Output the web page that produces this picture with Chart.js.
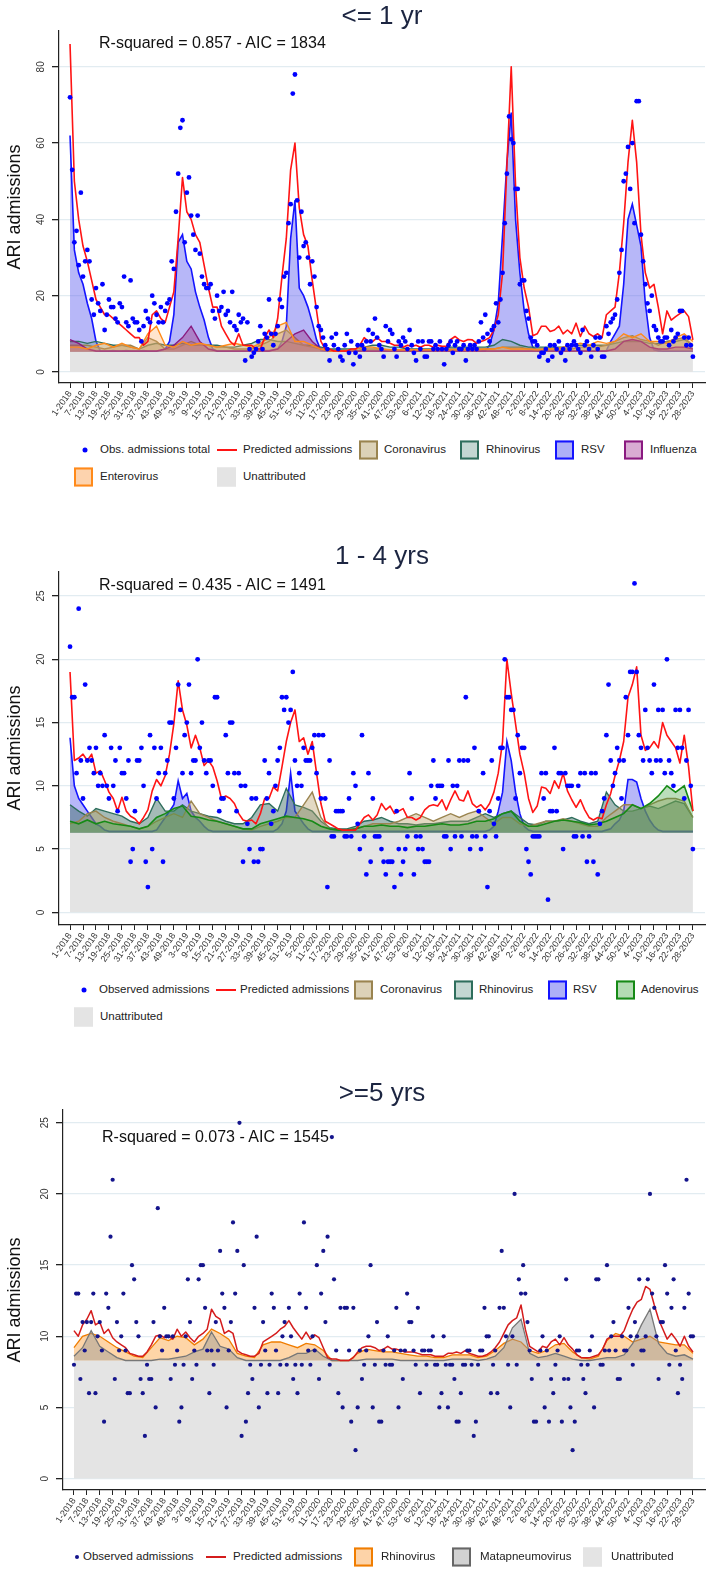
<!DOCTYPE html>
<html>
<head>
<meta charset="utf-8">
<script src="https://cdn.jsdelivr.net/npm/chart.js@4.4.0/dist/chart.umd.min.js"></script>
<style>
body { margin: 0; background: #fff; font-family: "Liberation Sans", Arial, sans-serif; }
#pagina { position: relative; width: 709px; height: 1571px; overflow: hidden; background: #fff; }
canvas { position: absolute; left: 0; }
.titulo { position: absolute; left: 59px; width: 646px; text-align: center; font-size: 26px; color: #1c2541; line-height: 1; transform: translateY(-50%); z-index: 2; }
.r2 { position: absolute; font-size: 16px; color: #111; line-height: 1; white-space: nowrap; transform: translateY(-50%); z-index: 2; }
.ytit { position: absolute; left: 14px; font-size: 18px; color: #111; line-height: 1; white-space: nowrap; transform: translate(-50%, -50%) rotate(-90deg); z-index: 2; }
.ley { position: absolute; font-size: 11.5px; color: #222; line-height: 1; white-space: nowrap; transform: translateY(-50%); }
.caja { position: absolute; width: 15px; height: 15px; border: 2px solid; transform: translateY(-50%); }
.punto { position: absolute; width: 5px; height: 5px; border-radius: 50%; transform: translate(-50%, -50%); }
.raya { position: absolute; width: 20px; height: 2px; transform: translateY(-50%); }
</style>
</head>
<body>
<div id="pagina">
  <div class="titulo" style="top:15px">&lt;= 1 yr</div>
  <div class="r2" style="left:99px; top:43px">R-squared = 0.857 - AIC = 1834</div>
  <div class="ytit" style="top:207px">ARI admissions</div>
  <canvas id="g1" width="709" height="440" style="top:0px"></canvas>

  <div class="titulo" style="top:555px">1 - 4 yrs</div>
  <div class="r2" style="left:99px; top:585px">R-squared = 0.435 - AIC = 1491</div>
  <div class="ytit" style="top:748px">ARI admissions</div>
  <canvas id="g2" width="709" height="440" style="top:540px"></canvas>

  <div class="titulo" style="top:1092px">&gt;=5 yrs</div>
  <div class="r2" style="left:102px; top:1137px">R-squared = 0.073 - AIC = 1545</div>
  <div class="ytit" style="top:1300px">ARI admissions</div>
  <canvas id="g3" width="709" height="470" style="top:1080px"></canvas>
</div>

<script>
// Etiquetas del eje X (una cada 6 semanas, de la semana 1-2018 a la 28-2023)
const semanas = ['1-2018','7-2018','13-2018','19-2018','25-2018','31-2018','37-2018','43-2018','49-2018',
  '3-2019','9-2019','15-2019','21-2019','27-2019','33-2019','39-2019','45-2019','51-2019',
  '5-2020','11-2020','17-2020','23-2020','29-2020','35-2020','41-2020','47-2020','53-2020',
  '6-2021','12-2021','18-2021','24-2021','30-2021','36-2021','42-2021','48-2021',
  '2-2022','8-2022','14-2022','20-2022','26-2022','32-2022','38-2022','44-2022','50-2022',
  '4-2023','10-2023','16-2023','22-2023','28-2023'];

const ticksY1 = [0, 20, 40, 60, 80];
const ticksY2 = [0, 5, 10, 15, 20, 25];
const ticksY3 = [0, 5, 10, 15, 20, 25];

// ---------- <= 1 año ----------
// ingresos observados, una por semana (289 semanas)
const obs1 = [72, 53, 34, 37, 28, 47, 25, 29, 32, 29,
  19, 15, 22, 18, 16, 23, 11, 15, 19, 17,
  17, 14, 13, 18, 17, 25, 13, 12, 24, 14,
  13, 13, 11, 8, 12, 16, 14, 13, 20, 18,
  15, 13, 17, 13, 16, 18, 19, 29, 27, 42,
  52, 64, 66, 34, 47, 51, 41, 36, 32, 41,
  31, 25, 23, 22, 22, 23, 16, 14, 20, 16,
  17, 21, 15, 16, 13, 21, 12, 11, 15, 13,
  14, 3, 13, 6, 4, 5, 6, 8, 12, 6,
  10, 9, 19, 10, 7, 10, 12, 19, 17, 25,
  26, 39, 44, 73, 78, 45, 30, 42, 33, 34,
  30, 23, 29, 25, 17, 12, 11, 9, 7, 6,
  3, 9, 7, 10, 6, 4, 3, 7, 10, 5,
  8, 2, 5, 7, 4, 7, 6, 8, 11, 8,
  10, 14, 9, 7, 6, 4, 12, 8, 11, 10,
  6, 4, 8, 7, 9, 8, 6, 11, 7, 5,
  3, 8, 6, 8, 4, 4, 8, 8, 6, 7,
  6, 8, 6, 2, 6, 7, 8, 5, 7, 8,
  6, 6, 7, 3, 6, 7, 6, 7, 6, 8,
  13, 9, 15, 10, 8, 11, 12, 18, 13, 19,
  26, 39, 52, 67, 61, 60, 48, 48, 23, 24,
  24, 16, 14, 9, 8, 8, 7, 4, 5, 5,
  6, 3, 7, 4, 7, 6, 8, 5, 6, 3,
  7, 6, 7, 8, 7, 6, 5, 11, 7, 8,
  6, 4, 7, 9, 6, 9, 4, 4, 12, 10,
  13, 14, 15, 19, 26, 32, 50, 52, 59, 48,
  60, 39, 71, 71, 36, 29, 23, 18, 16, 20,
  12, 11, 9, 8, 8, 9, 9, 7, 11, 8,
  9, 10, 16, 16, 9, 7, 9, 7, 4];
// predichos, cada 2 semanas
const pred1 = [86, 50, 40, 33, 29, 24, 19, 17, 15, 15,
  14, 13, 12, 11, 10, 9, 9, 7, 8, 15,
  16, 14, 13, 17, 21, 35, 51, 42, 40, 36,
  34, 28, 22, 17, 17, 12, 10, 8, 7, 10,
  7, 7, 7, 6, 6, 9, 11, 9, 14, 25,
  35, 53, 60, 43, 36, 33, 24, 16, 8, 6,
  6, 5.5, 5.5, 5.5, 5.5, 6, 6, 7, 9, 8,
  8, 9, 8, 8, 7.5, 7, 7, 6.5, 7, 6.7,
  7, 6.5, 7, 7, 6.5, 7, 6.7, 6.7, 8.5, 9.3,
  8.4, 8, 8.5, 8.4, 7.5, 8, 8.4, 9, 11, 15,
  26, 54, 80, 49, 30, 22, 17, 9.5, 10, 12,
  12, 10.6, 11, 12, 10, 11, 10, 12.8, 9.3, 12,
  10, 9.3, 10, 9, 15, 16, 17, 26, 39, 55,
  66, 55, 36, 26, 22, 23, 17, 10, 16, 13.6,
  14.5, 15.3, 16, 14.5, 8.4];
// RSV cada 2 semanas
const rsv1 = [62, 32, 26, 23, 18, 14, 8, 5.5, 5.5, 5.5,
  5.6, 5.5, 5.5, 5.6, 5.5, 5.5, 5.5, 5.6, 5.5, 5.5,
  5.5, 5.6, 6, 8, 15, 34, 36, 29, 27, 21,
  17, 13.6, 9, 6, 5.5, 5.5, 5.5, 5.5, 5.5, 5.5,
  5.5, 5.5, 5.5, 5.5, 5.6, 5.6, 5.6, 5.8, 6, 8,
  12, 35, 45, 22, 20, 17, 13, 8.4, 5.6, 5.5,
  5.5, 5.5, 5.5, 5.5, 5.5, 5.5, 5.5, 5.5, 5.5, 5.5,
  5.5, 5.5, 5.5, 5.5, 5.5, 5.5, 5.5, 5.5, 5.5, 5.5,
  5.5, 5.5, 5.5, 5.5, 5.5, 5.5, 5.5, 5.5, 5.5, 5.5,
  5.5, 5.5, 5.5, 5.5, 5.5, 5.6, 5.6, 7, 11, 18,
  36, 55, 68, 40, 26, 16, 10, 6.5, 5.6, 5.5,
  5.5, 5.5, 5.5, 5.5, 5.5, 5.5, 5.5, 5.5, 5.5, 5.5,
  5.5, 5.5, 5.5, 5.5, 5.6, 8, 10, 12, 23, 40,
  44, 38.5, 33, 18, 9, 5.8, 5.6, 5.5, 5.5, 5.5,
  5.5, 5.5, 5.5, 5.5, 5.5];
// resto de virus cada 4 semanas
const corona1 = [7, 7, 7, 6.5, 6, 6.5, 7, 7, 6, 9,
  8, 6, 6, 7, 8, 7, 7, 6.5, 6.5, 6,
  6, 6, 7, 8, 10, 11, 9, 7, 6.5, 6,
  5.5, 5.5, 5.5, 5.5, 6, 6, 6, 5.7, 5.6, 5.6,
  5.6, 5.6, 5.7, 5.8, 6, 6, 6, 6, 6, 6,
  6.5, 6.5, 6.5, 6, 6, 6, 6, 6, 6, 6.5,
  6.5, 6.5, 7, 8, 9, 9.5, 8.5, 8, 7, 8,
  8.5, 9, 7];
const rhino1 = [8, 8, 7.5, 8, 7.5, 7, 7, 6.5, 6, 7,
  7.5, 7, 7, 7.5, 7, 7, 7, 7, 6.5, 6.5,
  7, 7.5, 8.5, 8.5, 8, 8, 7.5, 7, 7, 6.5,
  6, 6, 6, 6, 6.5, 7, 7, 6.5, 6.5, 6,
  6, 6, 6, 6, 6.5, 6.5, 6.5, 6.5, 6.5, 7,
  8.5, 8, 7, 6.5, 6.5, 6.5, 6.5, 6.5, 7, 7,
  7, 7, 7, 7.5, 8, 8, 8, 7.5, 7.5, 8,
  8, 8.5, 7];
const flu1 = [8.5, 7.5, 6, 5.5, 5.5, 5.5, 5.5, 5.5, 5.5, 5.5,
  5.5, 6, 7, 9, 12, 8, 6, 5.5, 5.5, 5.5,
  5.5, 5.5, 5.5, 5.5, 6, 8, 10, 11, 8, 6,
  5.5, 5.5, 5.5, 5.5, 5.5, 5.5, 5.5, 5.5, 5.5, 5.5,
  5.5, 5.5, 5.5, 5.5, 5.5, 5.5, 5.5, 5.5, 5.5, 5.5,
  5.5, 5.5, 5.5, 5.5, 5.5, 5.5, 5.5, 5.5, 5.5, 5.5,
  5.5, 5.5, 5.5, 6, 8, 8.5, 8, 6.5, 6, 6,
  6.5, 6.5, 6];
const entero1 = [6.5, 6.5, 6, 7, 7.5, 6.5, 7.5, 6.5, 6, 10,
  12, 7, 6.5, 8, 7, 7.5, 7, 6.5, 7, 7.5,
  7, 6.5, 7.5, 9, 12, 13, 8, 8, 7, 6,
  5.5, 5.5, 5.7, 6, 6.5, 6.5, 6, 5.8, 5.8, 5.8,
  5.8, 5.8, 5.8, 5.8, 5.8, 5.8, 5.8, 5.8, 6, 6,
  6.5, 6, 6, 6, 5.8, 6, 6, 6.5, 7, 7.5,
  7, 8, 7.5, 8, 10, 9, 10, 8, 8, 7.5,
  9, 10, 8];
const sinAtribuir1 = [5.3, 5.3];

// ---------- 1 - 4 años ----------
const obs2 = [21, 17, 17, 11, 24, 12, 9, 18, 12, 13,
  12, 11, 13, 10, 11, 10, 14, 10, 9, 13,
  10, 12, 8, 13, 11, 11, 9, 12, 4, 5,
  8, 12, 12, 13, 10, 4, 2, 14, 5, 13,
  9, 11, 13, 4, 11, 12, 15, 15, 9, 13,
  18, 16, 11, 14, 15, 18, 11, 12, 12, 20,
  13, 15, 12, 11, 12, 12, 10, 17, 17, 8,
  9, 9, 14, 11, 15, 15, 11, 8, 11, 10,
  4, 10, 7, 5, 9, 4, 9, 4, 5, 5,
  12, 9, 11, 7, 8, 10, 12, 13, 17, 16,
  17, 15, 16, 19, 12, 10, 11, 10, 13, 12,
  12, 12, 13, 14, 11, 14, 9, 14, 9, 2,
  12, 6, 6, 8, 8, 8, 8, 6, 6, 9,
  6, 11, 10, 7, 5, 14, 6, 3, 11, 4,
  9, 6, 6, 6, 5, 4, 3, 4, 4, 4,
  2, 8, 5, 3, 4, 5, 6, 11, 9, 3,
  6, 5, 6, 5, 4, 4, 4, 10, 12, 9,
  10, 10, 10, 6, 6, 12, 5, 10, 6, 10,
  12, 6, 12, 17, 12, 5, 6, 13, 6, 8,
  5, 11, 6, 2, 8, 12, 7, 6, 9, 13,
  13, 20, 17, 17, 16, 16, 9, 14, 11, 13,
  13, 5, 4, 3, 6, 6, 6, 6, 11, 9,
  11, 1, 8, 8, 13, 8, 11, 11, 5, 11,
  10, 10, 10, 6, 6, 10, 11, 6, 11, 4,
  6, 11, 4, 11, 3, 7, 8, 9, 14, 18,
  12, 10, 11, 13, 12, 9, 12, 17, 14, 19,
  19, 26, 19, 14, 13, 12, 16, 13, 12, 11,
  18, 12, 16, 12, 16, 11, 20, 12, 11, 10,
  16, 13, 16, 13, 9, 12, 16, 10, 5];
const pred2 = [19, 12, 12.2, 12.5, 12, 12.5, 11, 11.2, 10.4, 9.5,
  9, 8, 9.1, 8, 7.6, 7.4, 7, 7.5, 8.1, 9.6,
  10.5, 10, 10.8, 12.5, 14.9, 18.3, 16, 14.8, 13, 14,
  13, 11.6, 12, 11.5, 10.4, 9, 9.2, 9, 8.6, 7.8,
  7.3, 7.2, 7.3, 7, 7.8, 9, 9, 9.9, 9.6, 11.5,
  13.5, 15, 16, 13.5, 13.8, 12.5, 13.5, 11, 8.6, 7.2,
  7, 6.8, 6.6, 6.5, 6.5, 6.5, 6.5, 7, 7.5, 7.7,
  7.3, 7.7, 8.6, 8.1, 8.4, 7.8, 8, 8.2, 7.5, 7.5,
  7.3, 7.5, 8.1, 8.4, 8.5, 8.4, 8.9, 8.1, 8.9, 9.6,
  8.9, 8.8, 9.6, 8.6, 8.3, 8.5, 8.1, 8.6, 9.5, 11,
  13.5, 20, 17.3, 14.9, 12.5, 11, 9, 7.9, 8.4, 9.9,
  9.8, 9.4, 10.4, 9.8, 11, 9.6, 8.9, 8.3, 8.9, 8.1,
  7.5, 7.3, 7.5, 7.4, 8.5, 9.4, 10.8, 12, 13.5, 17,
  18, 19.4, 14, 12.8, 13, 13.5, 13, 15, 14, 13.5,
  13, 11.8, 14, 11.5, 8];
const rsv2 = [13.8, 10, 9, 8.5, 8, 7.5, 7, 6.8, 6.5, 6.4,
  6.4, 6.4, 6.4, 6.4, 6.4, 6.4, 6.4, 6.4, 6.4, 6.4,
  6.5, 7, 7.5, 8, 8.5, 10.4, 9, 9.4, 8, 7.5,
  7.2, 6.8, 6.5, 6.4, 6.4, 6.4, 6.4, 6.4, 6.4, 6.4,
  6.4, 6.4, 6.4, 6.4, 6.4, 6.4, 6.4, 6.4, 6.6, 7,
  8, 11, 8, 7.5, 7, 6.6, 6.4, 6.4, 6.4, 6.4,
  6.4, 6.4, 6.4, 6.4, 6.4, 6.4, 6.4, 6.4, 6.4, 6.4,
  6.4, 6.4, 6.4, 6.4, 6.4, 6.4, 6.4, 6.4, 6.4, 6.4,
  6.4, 6.4, 6.4, 6.4, 6.4, 6.4, 6.4, 6.4, 6.4, 6.4,
  6.4, 6.4, 6.4, 6.4, 6.4, 6.4, 6.4, 6.5, 6.8, 8,
  9.5, 13.5, 12, 9.5, 7.8, 6.8, 6.5, 6.4, 6.4, 6.4,
  6.4, 6.4, 6.4, 6.4, 6.4, 6.4, 6.4, 6.4, 6.4, 6.4,
  6.4, 6.4, 6.4, 6.4, 6.5, 6.6, 7, 7.3, 8, 10.5,
  10.5, 10.3, 9, 8, 7.3, 6.8, 6.5, 6.4, 6.4, 6.4,
  6.4, 6.4, 6.4, 6.4, 6.4];
const corona2 = [7, 7.2, 7.8, 8, 7.5, 7.2, 7, 6.8, 6.6, 6.8,
  7.2, 7.5, 7.8, 7.5, 8.8, 7.8, 7.5, 7.2, 7, 6.8,
  6.6, 6.5, 6.8, 7, 7.2, 7.5, 7.5, 8.5, 9.5, 7.5,
  6.6, 6.5, 6.5, 6.6, 6.8, 7, 7, 7, 7.2, 7.5,
  7.8, 7.5, 7.2, 7.5, 7.8, 7.5, 7.8, 8, 7.5, 7,
  7.5, 7.5, 7, 6.8, 7, 7.2, 7.2, 7.4, 7.2, 7,
  6.8, 6.8, 7.5, 8, 8.5, 8.5, 8.2, 8.5, 8.8, 9,
  9, 8.8, 7.5];
const rhino2 = [8.5, 8, 7.6, 8.2, 8, 7.8, 7.6, 7.2, 7, 7.5,
  9, 8, 8, 8.5, 8, 7.8, 7.6, 7.5, 7.2, 7,
  7, 7.5, 8.5, 8.6, 8, 9.8, 8.5, 8.3, 8, 7.2,
  6.7, 6.6, 6.6, 6.8, 7.2, 7.3, 7.5, 7.2, 7, 7,
  6.9, 7, 7, 7.1, 7.2, 7.2, 7.2, 7.5, 7.8, 7.5,
  7.8, 8, 7.5, 7, 6.9, 7.2, 7.2, 7.3, 7.5, 7.2,
  7, 7.2, 9.5, 8.5, 8, 8, 8.2, 8.4, 8.2, 8.5,
  8.8, 8.6, 7.5];
const adeno2 = [7.2, 7, 7.3, 7, 7.2, 7, 6.9, 6.8, 6.6, 6.8,
  7.5, 7.8, 8.2, 8.4, 7.6, 7.5, 7.3, 7.2, 7, 6.8,
  6.6, 6.6, 7, 7.2, 7.4, 7.6, 7.5, 7.4, 7.2, 6.8,
  6.6, 6.5, 6.5, 6.6, 6.8, 6.8, 6.9, 6.8, 6.8, 6.7,
  6.8, 6.8, 6.9, 7, 6.9, 6.9, 7, 7.2, 7.2, 7.4,
  7.8, 8, 7.2, 6.8, 6.8, 7, 7.2, 7.3, 7.2, 7.1,
  6.9, 7, 7.2, 7.5, 7.8, 8.5, 8.2, 8.6, 9.2, 10,
  9.5, 10, 8];
const sinAtribuir2 = [6.3, 6.3];

// ---------- >= 5 años ----------
const obs3 = [8, 13, 13, 7, 11, 9, 11, 6, 11, 13,
  6, 10, 11, 9, 4, 13, 12, 17, 21, 7,
  11, 9, 10, 13, 9, 6, 6, 15, 14, 11,
  10, 7, 6, 3, 8, 7, 7, 11, 5, 19,
  10, 9, 12, 10, 10, 7, 10, 8, 9, 4,
  5, 8, 10, 14, 11, 7, 9, 8, 14, 15,
  15, 12, 9, 6, 9, 8, 11, 9, 16, 13,
  12, 5, 9, 11, 18, 13, 16, 25, 3, 15,
  4, 6, 8, 7, 12, 17, 5, 8, 11, 9,
  6, 8, 13, 12, 9, 6, 8, 10, 11, 8,
  12, 10, 7, 8, 6, 13, 8, 18, 12, 9,
  8, 10, 9, 15, 7, 13, 16, 11, 17, 8,
  24, 14, 9, 6, 12, 5, 12, 12, 9, 4,
  12, 2, 5, 9, 7, 8, 9, 10, 15, 5,
  8, 11, 4, 4, 9, 8, 10, 8, 8, 9,
  12, 5, 9, 7, 9, 13, 11, 11, 9, 8,
  12, 6, 9, 9, 8, 9, 9, 10, 8, 8,
  5, 6, 10, 8, 5, 8, 8, 7, 4, 4,
  6, 8, 8, 9, 9, 8, 3, 4, 8, 9,
  9, 12, 10, 10, 6, 8, 9, 6, 12, 16,
  12, 10, 8, 5, 10, 20, 8, 14, 13, 15,
  13, 11, 9, 7, 4, 4, 8, 9, 10, 5,
  9, 4, 7, 6, 8, 9, 10, 4, 7, 14,
  7, 5, 2, 4, 9, 9, 8, 7, 6, 8,
  9, 10, 5, 14, 14, 8, 8, 9, 15, 9,
  10, 11, 9, 7, 7, 10, 9, 9, 12, 10,
  8, 11, 10, 14, 9, 9, 10, 14, 20, 13,
  12, 10, 7, 11, 11, 15, 13, 8, 12, 14,
  9, 6, 8, 7, 12, 21, 13, 10, 10];
const pred3 = [10.4, 10, 10.8, 11.2, 11.8, 10.8, 11, 10.2, 10.5, 9.9,
  9.6, 9.4, 9.2, 8.8, 8.7, 8.6, 8.6, 8.9, 9.4, 10,
  10.1, 9.9, 10, 9.8, 10.5, 10, 10.3, 9.9, 9.6, 10,
  10.2, 10.5, 11.9, 11.4, 11.2, 10.2, 10.4, 10.2, 9, 8.8,
  8.7, 8.6, 8.6, 8.8, 9.6, 9.8, 10, 10.2, 10.5, 10.7,
  11.1, 10.6, 10.2, 9.8, 10.3, 9.8, 10.1, 9.9, 9.2, 8.5,
  8.4, 8.4, 8.3, 8.3, 8.3, 8.5, 8.9, 9.2, 9.3, 9.3,
  9.2, 9, 9.1, 9.3, 9.1, 9.1, 9, 8.9, 8.9, 8.9,
  8.8, 8.7, 8.7, 8.7, 8.6, 8.6, 8.6, 8.8, 8.8, 8.9,
  8.8, 9, 8.8, 8.7, 8.6, 8.6, 8.7, 8.9, 9.2, 9.6,
  10.2, 10.8, 11.1, 11.3, 12.2, 10.5, 9.3, 9.1, 8.9, 9.3,
  9.2, 9.6, 9.8, 9.4, 9.9, 9.4, 9.1, 8.7, 8.5, 8.5,
  8.5, 8.6, 8.7, 9.1, 9.8, 10, 10, 10, 10.4, 11.2,
  11.9, 12.4, 12.6, 13.5, 13.3, 12.2, 11.2, 10.5, 9.8, 10.2,
  9.8, 9.3, 10, 9.3, 8.9];
const rhino3 = [9.2, 10, 10.2, 10, 9.6, 9.2, 8.9, 8.6, 8.5, 9.2,
  9.9, 9.7, 10, 9.9, 9.4, 9.8, 10.5, 10.2, 9.8, 8.8,
  8.6, 8.5, 9.4, 9.6, 9.6, 9.4, 9.2, 9.5, 9.4, 9,
  8.3, 8.3, 8.3, 8.8, 9.1, 9, 8.9, 8.9, 8.8, 8.7,
  8.6, 8.6, 8.5, 8.5, 8.7, 8.7, 8.7, 8.5, 8.6, 9,
  9.5, 9.8, 9.6, 9, 8.8, 9, 9.4, 9.5, 8.9, 8.5,
  8.4, 8.6, 9.7, 10.2, 10, 9.6, 9.8, 10, 9.6, 9.5,
  9.4, 9.4, 8.8];
const meta3 = [8.6, 9.2, 10.4, 9.3, 8.9, 8.5, 8.3, 8.3, 8.3, 8.3,
  8.4, 8.4, 8.5, 8.6, 8.9, 9.1, 10.3, 9.3, 9.1, 8.5,
  8.3, 8.3, 8.3, 8.3, 8.3, 8.5, 8.8, 8.8, 9.1, 8.6,
  8.3, 8.3, 8.3, 8.3, 8.4, 8.4, 8.4, 8.4, 8.3, 8.3,
  8.3, 8.3, 8.3, 8.3, 8.4, 8.4, 8.4, 8.3, 8.4, 8.6,
  9.2, 10.6, 11.2, 8.8, 8.5, 8.6, 8.8, 8.6, 8.4, 8.3,
  8.3, 8.4, 8.5, 8.5, 8.7, 9.5, 10.8, 11.9, 9.5, 8.8,
  8.6, 8.7, 8.4];
const sinAtribuir3 = [8.3, 8.3];

// Convierte una lista de valores en puntos {x: semana, y: valor}
function aPuntos(valores, paso) {
    return valores.map((v, k) => ({ x: k * paso, y: v }));
}

// Serie de puntos observados
function puntos(valores, color, radio) {
    return { data: aPuntos(valores, 1), showLine: false, pointRadius: radio,
             pointBackgroundColor: color, pointBorderWidth: 0, borderColor: color, order: 0 };
}

// Línea roja de predichos
function linea(valores, color, grosor) {
    return { data: aPuntos(valores, 2), borderColor: color, borderWidth: grosor, pointRadius: 0,
             fill: false, tension: 0, borderJoinStyle: 'round', order: 1 };
}

// Área de un virus rellena hasta la base (o hasta 0 para la parte sin atribuir)
function area(valores, paso, borde, relleno, base, orden, grosor) {
    return { data: aPuntos(valores, paso), borderColor: borde, backgroundColor: relleno,
             borderWidth: grosor === undefined ? 1.4 : grosor, pointRadius: 0, tension: 0,
             fill: base === 'origin' ? 'origin' : { value: base }, order: orden };
}

// Números del eje Y girados, como en Stata
const etiquetasY = {
    id: 'etiquetasY',
    afterDraw(chart) {
        const esc = chart.scales.y;
        const ctx = chart.ctx;
        ctx.save();
        ctx.fillStyle = '#333';
        ctx.font = '10px "Liberation Sans", Arial, sans-serif';
        ctx.textAlign = 'center';
        ctx.textBaseline = 'middle';
        esc.ticks.forEach(t => {
            ctx.save();
            ctx.translate(esc.right - 18, esc.getPixelForValue(t.value));
            ctx.rotate(-Math.PI / 2);
            ctx.fillText(String(t.value), 0, 0);
            ctx.restore();
        });
        ctx.restore();
    }
};

function crearGrafico(id, conjuntos, yMin, yMax, ticksY, margenArriba, anchoY, altoX) {
    return new Chart(document.getElementById(id), {
        type: 'line',
        data: { datasets: conjuntos },
        options: {
            responsive: false,
            animation: false,
            devicePixelRatio: 1,
            layout: { padding: { top: margenArriba, right: 4, left: 0, bottom: 0 } },
            plugins: { legend: { display: false }, tooltip: { enabled: false } },
            scales: {
                x: {
                    type: 'linear', min: -5.1, max: 293.6,
                    afterBuildTicks: s => { s.ticks = semanas.map((t, k) => ({ value: k * 6 })); },
                    afterFit: s => { s.height = altoX; },
                    ticks: { autoSkip: false, minRotation: 55, maxRotation: 55, padding: 1,
                             font: { size: 9, family: '"Liberation Sans", Arial, sans-serif' }, color: '#333',
                             callback: (v, i) => semanas[i] },
                    grid: { drawOnChartArea: false, drawTicks: true, tickLength: 5, tickColor: '#222' },
                    border: { display: true, color: '#222', width: 1.2 }
                },
                y: {
                    min: yMin, max: yMax,
                    afterBuildTicks: s => { s.ticks = ticksY.map(v => ({ value: v })); },
                    afterFit: s => { s.width = anchoY; },
                    ticks: { display: false },
                    grid: { color: '#e2ecf1', lineWidth: 1.3, tickLength: 7, tickColor: '#222' },
                    border: { display: true, color: '#222', width: 1.2 }
                }
            }
        },
        plugins: [etiquetasY]
    });
}

// Panel 1: <= 1 año
crearGrafico('g1', [
    puntos(obs1, '#0000ff', 2.4),
    linea(pred1, '#ff1414', 1.6),
    area(entero1, 4, '#ff8a1a', 'rgba(255,170,90,0.30)', 5.3, 2),
    area(flu1, 4, '#8a1a80', 'rgba(160,60,140,0.45)', 5.3, 3),
    area(corona1, 4, '#9a8450', 'rgba(185,160,105,0.50)', 5.3, 4),
    area(rhino1, 4, '#2e6e5c', 'rgba(110,160,150,0.35)', 5.3, 5),
    area(rsv1, 2, '#1414ff', 'rgba(95,95,240,0.45)', 5.3, 6, 1.6),
    area(sinAtribuir1, 288, '#e4e4e4', '#e4e4e4', 'origin', 9, 0)
], -2.9, 89.4, ticksY1, 31, 59, 57);

// Panel 2: 1 - 4 años
crearGrafico('g2', [
    puntos(obs2, '#0000ff', 2.4),
    linea(pred2, '#ff1414', 1.6),
    area(adeno2, 4, '#168a16', 'rgba(60,160,60,0.35)', 6.3, 2, 1.6),
    area(corona2, 4, '#9a8450', 'rgba(185,160,105,0.40)', 6.3, 4),
    area(rhino2, 4, '#2e6e5c', 'rgba(55,105,95,0.45)', 6.3, 5),
    area(rsv2, 2, '#1414ff', 'rgba(95,95,240,0.45)', 6.3, 6, 1.6),
    area(sinAtribuir2, 288, '#e4e4e4', '#e4e4e4', 'origin', 9, 0)
], -1.0, 26.9, ticksY2, 32, 59, 55);

// Panel 3: >= 5 años
crearGrafico('g3', [
    puntos(obs3, '#14148c', 2.1),
    linea(pred3, '#d41c1c', 1.5),
    area(meta3, 4, '#777777', 'rgba(150,150,150,0.45)', 8.3, 3, 1.3),
    area(rhino3, 4, '#f07d00', 'rgba(253,190,120,0.65)', 8.3, 4, 1.3),
    area(sinAtribuir3, 288, '#e4e4e4', '#e4e4e4', 'origin', 9, 0)
], -0.8, 25.9, ticksY3, 30, 63, 60);

// Leyendas en HTML
const pagina = document.getElementById('pagina');
function elemento(clase, x, y, estilo, texto) {
    const d = document.createElement('div');
    d.className = clase;
    d.style.left = x + 'px';
    d.style.top = y + 'px';
    Object.assign(d.style, estilo || {});
    if (texto) d.textContent = texto;
    pagina.appendChild(d);
}
function caja(x, y, borde, relleno, texto, xTexto) {
    elemento('caja', x, y, { borderColor: borde, background: relleno });
    elemento('ley', xTexto, y, null, texto);
}

// leyenda panel 1
elemento('punto', 84.5, 450, { background: '#0000ff' });
elemento('ley', 100, 450, null, 'Obs. admissions total');
elemento('raya', 217, 450, { background: '#ff1414' });
elemento('ley', 243, 450, null, 'Predicted admissions');
caja(359, 450, '#9a8450', '#dcd2b8', 'Coronavirus', 384);
caja(460, 450, '#2e6e5c', '#c3d7d2', 'Rhinovirus', 486);
caja(555, 450, '#1414ff', '#aeb0f7', 'RSV', 581);
caja(624, 450, '#8a1a80', '#d9acd3', 'Influenza', 650);
caja(74, 477, '#ff8a1a', '#fdd3ae', 'Enterovirus', 100);
caja(217, 477, '#e4e4e4', '#e4e4e4', 'Unattributed', 243);

// leyenda panel 2
elemento('punto', 84, 990, { background: '#0000ff' });
elemento('ley', 99, 990, null, 'Observed admissions');
elemento('raya', 216, 990, { background: '#ff1414' });
elemento('ley', 240, 990, null, 'Predicted admissions');
caja(354, 990, '#9a8450', '#dcd2b8', 'Coronavirus', 380);
caja(454, 990, '#2e6e5c', '#c3d7d2', 'Rhinovirus', 479);
caja(548, 990, '#1414ff', '#aeb0f7', 'RSV', 573);
caja(616, 990, '#168a16', '#b3dcb3', 'Adenovirus', 641);
caja(74, 1017, '#e4e4e4', '#e4e4e4', 'Unattributed', 100);

// leyenda panel 3
elemento('punto', 77, 1557, { background: '#14148c', width: '4px', height: '4px' });
elemento('ley', 83, 1557, null, 'Observed admissions');
elemento('raya', 206, 1557, { background: '#d41c1c' });
elemento('ley', 233, 1557, null, 'Predicted admissions');
caja(354, 1557, '#f07d00', '#fdd3a8', 'Rhinovirus', 381);
caja(452, 1557, '#666666', '#d2d2d2', 'Matapneumovirus', 480);
caja(583, 1557, '#e4e4e4', '#e4e4e4', 'Unattributed', 611);
</script>
</body>
</html>
